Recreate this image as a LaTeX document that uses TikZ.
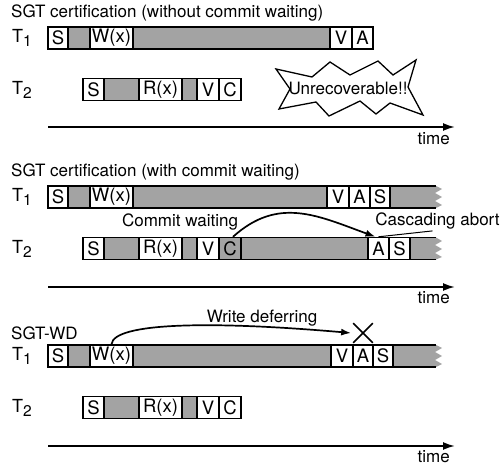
\documentclass[tikz,border=0pt]{standalone}
\usepackage{fontspec}
\setmainfont{TeX Gyre Heros}
\usetikzlibrary{arrows.meta,shapes.misc}

\definecolor{halftone}{gray}{0.64}
\newcommand{\tlab}[1]{T\raisebox{-4pt}{\fontsize{15.5}{15.5}\selectfont #1}}

\begin{document}
\begin{tikzpicture}[x=1pt,y=1pt,
  font=\fontsize{17}{18}\selectfont,
  every node/.style={inner sep=1pt},
  op/.style={draw,line width=1.4pt,fill=white,minimum height=22pt,inner sep=0pt,
    font=\fontsize{18.5}{19}\selectfont},
  busy/.style={fill=halftone},
  bar/.style={line width=1.7pt},
  timeline/.style={line width=1.9pt,-{Latex[length=12pt,width=8pt]}},
  flow/.style={line width=1.7pt,-{Latex[length=10pt,width=7pt]}}]

\useasboundingbox (0,0) rectangle (501,-468);

%====================================================
% Case 1 : SGT certification without commit waiting
%====================================================
\begin{scope}[shift={(0,0)}]

\node[anchor=west] (titleA) at (10,-13) {SGT certification (without commit waiting)};

% T1
\node[anchor=west] (tA1) at (11,-38) {\fontsize{18}{18}\selectfont\tlab{1}};
\fill[busy] (48,-27) rectangle (373,-49);
\node[op,minimum width=20pt] (sA1) at (58,-38) {S};
\node[op,minimum width=43pt] (wA1) at (111.5,-38) {W(x)};
\node[op,minimum width=22pt] (vA1) at (341,-38) {V};
\node[op,minimum width=21pt] (aA1) at (362.5,-38) {A};
\draw[bar] (48,-27) rectangle (373,-49);

% T2
\node[anchor=west] (tA2) at (11,-89.5) {\fontsize{18}{18}\selectfont\tlab{2}};
\fill[busy] (83,-78.5) rectangle (241,-100.5);
\node[op,minimum width=21pt] (sA2) at (93.5,-89.5) {S};
\node[op,minimum width=43pt] (rA2) at (160.5,-89.5) {R(x)};
\node[op,minimum width=22pt] (vA2) at (208,-89.5) {V};
\node[op,minimum width=22pt] (cA2) at (230,-89.5) {C};
\draw[bar] (83,-78.5) rectangle (241,-100.5);

% Burst
\draw[line width=1.3pt] (276,-69) -- (312,-77) -- (330,-62) -- (350,-75) -- (378,-61)
  -- (393,-75) -- (416,-60) -- (408,-87) -- (423,-115) -- (390,-103) -- (376,-114)
  -- (360,-101) -- (329,-116) -- (316,-102) -- (279,-109) -- (290,-89) -- cycle;
\node (unrec) at (348,-88) {Unrecoverable!!};

% Time axis
\coordinate (axA0) at (48,-127);
\coordinate (axA1) at (455,-127);
\draw[timeline] (axA0) -- (axA1);
\node[anchor=east] (timeA) at (451,-139) {time};

\end{scope}

%====================================================
% Case 2 : SGT certification with commit waiting
%====================================================
\begin{scope}[shift={(0,-159)}]

\node[anchor=west] (titleB) at (10,-13) {SGT certification (with commit waiting)};

% T1
\node[anchor=west] (tB1) at (11,-38) {\fontsize{18}{18}\selectfont\tlab{1}};
\fill[busy] (48,-27) -- (436,-27) -- (442,-30) -- (435,-34) -- (442,-38) -- (435,-42)
  -- (442,-46) -- (436,-49) -- (48,-49) -- cycle;
\node[op,minimum width=20pt] (sB1) at (58,-38) {S};
\node[op,minimum width=43pt] (wB1) at (111.5,-38) {W(x)};
\node[op,minimum width=22pt] (vB1) at (338,-38) {V};
\node[op,minimum width=21pt] (aB1) at (359.5,-38) {A};
\node[op,minimum width=20pt] (rsB1) at (380,-38) {S};
\draw[bar] (436,-27) -- (48,-27) -- (48,-49) -- (436,-49);

% T2
\node[anchor=west] (tB2) at (11,-89.5) {\fontsize{18}{18}\selectfont\tlab{2}};
\fill[busy] (83,-78.5) -- (436,-78.5) -- (442,-82) -- (435,-86) -- (442,-90) -- (435,-94)
  -- (442,-98) -- (436,-100.5) -- (83,-100.5) -- cycle;
\node[op,minimum width=21pt] (sB2) at (93.5,-89.5) {S};
\node[op,minimum width=43pt] (rB2) at (160.5,-89.5) {R(x)};
\node[op,minimum width=22pt] (vB2) at (208,-89.5) {V};
\node[op,minimum width=22pt,fill=halftone] (cB2) at (230,-89.5) {C};
\node[op,minimum width=21pt] (aB2) at (378.5,-89.5) {A};
\node[op,minimum width=21pt] (rsB2) at (399.5,-89.5) {S};
\draw[bar] (436,-78.5) -- (83,-78.5) -- (83,-100.5) -- (436,-100.5);

% Commit waiting
\node (cwait) at (180,-63) {Commit waiting};
\draw[flow] ([xshift=3pt]cB2.north) to[out=42,in=160,looseness=1.1] ([xshift=-3pt]aB2.north);

% Cascading abort
\node (casc) at (437.5,-62.5) {Cascading abort};
\draw[line width=1pt] (aB2.north) -- ([xshift=-5pt]casc.south);

% Time axis
\coordinate (axB0) at (48,-128);
\coordinate (axB1) at (455,-128);
\draw[timeline] (axB0) -- (axB1);
\node[anchor=east] (timeB) at (451,-139) {time};

\end{scope}

%====================================================
% Case 3 : SGT-WD
%====================================================
\begin{scope}[shift={(0,-318)}]

\node[anchor=west] (titleC) at (10,-15) {SGT-WD};

% T1
\node[anchor=west] (tC1) at (11,-38) {\fontsize{18}{18}\selectfont\tlab{1}};
\fill[busy] (48,-27) -- (436,-27) -- (442,-30) -- (435,-34) -- (442,-38) -- (435,-42)
  -- (442,-46) -- (436,-49) -- (48,-49) -- cycle;
\node[op,minimum width=20pt] (sC1) at (58,-38) {S};
\node[op,minimum width=43pt] (wC1) at (111.5,-38) {W(x)};
\node[op,minimum width=22pt] (vC1) at (342,-38) {V};
\node[op,minimum width=20pt] (aC1) at (363,-38) {A};
\node[op,minimum width=20pt] (rsC1) at (383,-38) {S};
\draw[bar] (436,-27) -- (48,-27) -- (48,-49) -- (436,-49);

% T2
\node[anchor=west] (tC2) at (11,-89.5) {\fontsize{18}{18}\selectfont\tlab{2}};
\fill[busy] (83,-78.5) rectangle (241,-100.5);
\node[op,minimum width=21pt] (sC2) at (93.5,-89.5) {S};
\node[op,minimum width=43pt] (rC2) at (160.5,-89.5) {R(x)};
\node[op,minimum width=22pt] (vC2) at (208,-89.5) {V};
\node[op,minimum width=22pt] (cC2) at (230,-89.5) {C};
\draw[bar] (83,-78.5) rectangle (241,-100.5);

% Write deferring
\node (wdef) at (262,0) {Write deferring};
\node[cross out,draw,line width=1.7pt,minimum size=18pt,inner sep=0pt] (xm) at (363,-15) {};
\draw[flow] (wC1.north) .. controls +(85:22) and +(175:140) .. ([xshift=-2pt]xm.west);

% Time axis
\coordinate (axC0) at (48,-128);
\coordinate (axC1) at (455,-128);
\draw[timeline] (axC0) -- (axC1);
\node[anchor=east] (timeC) at (451,-139) {time};

\end{scope}

\end{tikzpicture}
\end{document}
